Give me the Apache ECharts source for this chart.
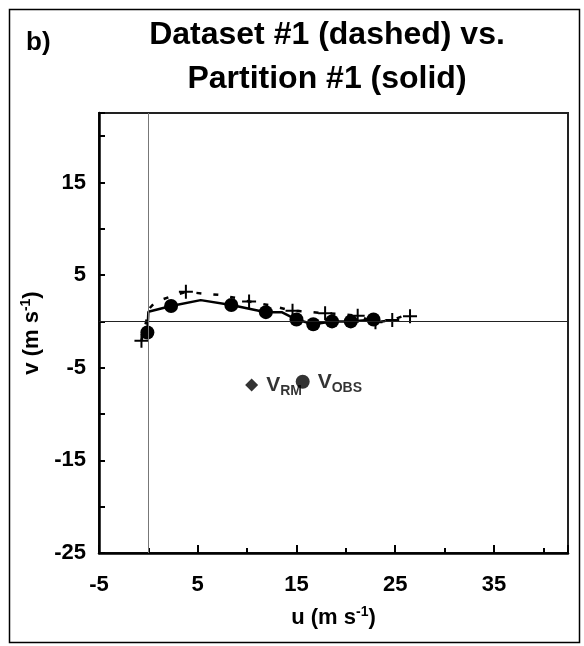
<!DOCTYPE html>
<html>
<head>
<meta charset="utf-8">
<script src="https://cdn.jsdelivr.net/npm/echarts@6/dist/echarts.min.js"></script>
<style>
html,body{margin:0;padding:0;background:#fff;}
#chart{width:584px;height:646px;}
</style>
</head>
<body>
<div id="chart"></div>
<script>
// ---- Data ----
const titleText = 'Dataset #1 (dashed) vs.\nPartition #1 (solid)';
const panelLabel = 'b)';
const xAxisTitle = ['u (m s', '-1', ')'];
const yAxisTitle = ['v (m s', '-1', ')'];

// Dataset #1 (dashed line, "+" markers)
const datasetU = [-0.7, 0.1, 0.7, 2.3, 3.8, 5.6, 7.3, 9.0, 10.2, 12.0, 14.6, 16.2, 17.9, 19.5, 21.2, 23.0, 24.7, 25.7, 26.5];
const datasetV = [-2.1, 1.4, 2.1, 2.7, 3.2, 3.0, 2.85, 2.5, 2.15, 1.8, 1.15, 1.05, 0.87, 0.8, 0.6, -0.1, 0.15, 0.55, 0.55];
const datasetMarker = [1, 0, 0, 0, 1, 0, 0, 0, 1, 0, 1, 0, 1, 0, 1, 1, 1, 0, 1];

// Partition #1 (solid line, filled circles)
const partitionU = [-0.1, 0.0, 2.3, 5.3, 8.4, 11.9, 13.5, 15.0, 16.7, 18.6, 20.5, 22.8];
const partitionV = [-1.2, 1.05, 1.66, 2.3, 1.77, 1.0, 1.0, 0.2, -0.3, 0.0, 0.0, 0.2];
const partitionMarker = [1, 0, 1, 0, 1, 1, 0, 1, 1, 1, 1, 1];

// Storm motion vectors
const vrmName = ['V', 'RM'];
const vrmPoint = [10.46, -6.86];
const vobsName = ['V', 'OBS'];
const vobsPoint = [15.63, -6.51];

// Axis ranges
const xMin = -5, xMax = 42.5, xStep = 10;
const yMin = -25, yMax = 22.5, yStep = 10;

// ---- Chart ----
const FONT = '"Liberation Sans", Arial, sans-serif';
const plusPath = 'path://M6,0H8V6H14V8H8V14H6V8H0V6H6Z';

const chart = echarts.init(document.getElementById('chart'), null, {renderer: 'canvas'});

const datasetData = datasetU.map((u, i) => ({
  value: [u, datasetV[i]],
  symbol: datasetMarker[i] ? plusPath : 'none'
}));
const partitionData = partitionU.map((u, i) => ({
  value: [u, partitionV[i]],
  symbol: partitionMarker[i] ? 'circle' : 'none'
}));

const richLabel = {
  v: {fontSize: 21, fontWeight: 'bold', fontFamily: FONT, color: '#000', lineHeight: 26, verticalAlign: 'middle'},
  s: {fontSize: 14, fontWeight: 'bold', fontFamily: FONT, color: '#000', lineHeight: 14, verticalAlign: 'bottom'}
};
const richAxisName = {
  a: {fontSize: 22, fontWeight: 'bold', fontFamily: FONT, color: '#000', lineHeight: 26, verticalAlign: 'middle'},
  b: {fontSize: 14, fontWeight: 'bold', fontFamily: FONT, color: '#000', lineHeight: 14, verticalAlign: 'top'}
};

const axisLabelStyle = {fontSize: 22, fontWeight: 'bold', fontFamily: FONT, color: '#000'};

const option = {
  animation: false,
  backgroundColor: '#fff',
  title: {
    text: titleText,
    left: 327,
    top: 13,
    padding: 0,
    textAlign: 'center',
    textStyle: {fontSize: 32, fontWeight: 'bold', fontFamily: FONT, color: '#000', lineHeight: 44}
  },
  graphic: [
    {type: 'rect', left: 7, top: 7, shape: {width: 570, height: 633},
     style: {fill: 'none', stroke: '#000', lineWidth: 1.5}, silent: true},
    {type: 'text', left: 26, top: 30,
     style: {text: panelLabel, font: 'bold 26px ' + FONT, fill: '#000'}}
  ],
  grid: {left: 99, top: 113, right: 16, bottom: 93, show: true, borderColor: '#222', borderWidth: 2, containLabel: false},
  xAxis: {
    type: 'value', min: xMin, max: xMax, interval: xStep, position: 'bottom',
    axisLine: {show: true, onZero: false, lineStyle: {color: '#000', width: 2.5}},
    axisTick: {show: true, inside: true, length: 8, lineStyle: {color: '#000', width: 2}},
    minorTick: {show: true, splitNumber: 2, length: 5, lineStyle: {color: '#000', width: 2}},
    axisLabel: Object.assign({margin: 21, showMaxLabel: false}, axisLabelStyle),
    splitLine: {show: false},
    minorSplitLine: {show: false},
    name: '{a|' + xAxisTitle[0] + '}{b|' + xAxisTitle[1] + '}{a|' + xAxisTitle[2] + '}',
    nameLocation: 'middle', nameGap: 52,
    nameTextStyle: {rich: richAxisName}
  },
  yAxis: {
    type: 'value', min: yMin, max: yMax, interval: yStep, position: 'left',
    axisLine: {show: true, onZero: false, lineStyle: {color: '#000', width: 2.5}},
    axisTick: {show: true, inside: true, length: 6, lineStyle: {color: '#000', width: 2}},
    minorTick: {show: true, splitNumber: 2, length: 6, lineStyle: {color: '#000', width: 2}},
    axisLabel: Object.assign({margin: 13, showMaxLabel: false}, axisLabelStyle),
    splitLine: {show: false},
    minorSplitLine: {show: false},
    name: '{a|' + yAxisTitle[0] + '}{b|' + yAxisTitle[1] + '}{a|' + yAxisTitle[2] + '}',
    nameLocation: 'middle', nameGap: 54, nameRotate: 90,
    nameTextStyle: {rich: richAxisName}
  },
  series: [
    {
      name: 'Dataset #1', type: 'line', data: datasetData,
      symbolSize: 14, showSymbol: true,
      lineStyle: {color: '#000', width: 2.5, type: [5, 12]},
      itemStyle: {color: '#000', borderWidth: 0},
      z: 3,
      markLine: {
        silent: true, symbol: 'none', animation: false,
        label: {show: false},
        lineStyle: {color: '#333', width: 1, type: 'solid'},
        data: [
          {yAxis: 0, lineStyle: {color: '#222', width: 1, type: 'solid'}},
          {xAxis: 0, lineStyle: {color: '#777', width: 1, type: 'solid'}}
        ]
      }
    },
    {
      name: 'Partition #1', type: 'line', data: partitionData,
      symbolSize: 14, showSymbol: true,
      lineStyle: {color: '#000', width: 2.5, type: 'solid'},
      itemStyle: {color: '#000', borderWidth: 0},
      z: 4
    },
    {
      name: 'VRM', type: 'scatter', data: [vrmPoint],
      symbol: 'diamond', symbolSize: [13, 13],
      itemStyle: {color: '#000'},
      label: {show: true, position: 'right', distance: 8,
        formatter: '{v|' + vrmName[0] + '}{s|' + vrmName[1] + '}', rich: richLabel},
      z: 5
    },
    {
      name: 'VOBS', type: 'scatter', data: [vobsPoint],
      symbol: 'circle', symbolSize: 14,
      itemStyle: {color: '#000'},
      label: {show: true, position: 'right', distance: 8,
        formatter: '{v|' + vobsName[0] + '}{s|' + vobsName[1] + '}', rich: richLabel},
      z: 6
    }
  ]
};
chart.setOption(option);
</script>
</body>
</html>
